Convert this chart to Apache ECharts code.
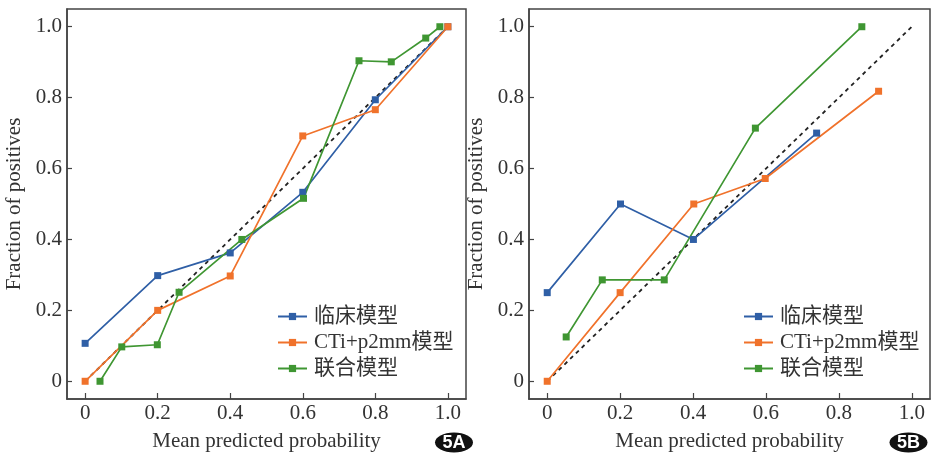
<!DOCTYPE html>
<html>
<head>
<meta charset="utf-8">
<script src="https://cdn.jsdelivr.net/npm/echarts@6/dist/echarts.min.js"></script>
<style>html,body{margin:0;padding:0;background:#fff}#c{width:936px;height:457px}</style>
</head>
<body>
<div id="c"></div>
<script>
// ---- data ----
const seriesNames = ['临床模型', 'CTi+p2mm模型', '联合模型'];
const tickValues = [0, 0.2, 0.4, 0.6, 0.8, 1.0];
const diagonal = [[0, 0], [1, 1]];

// Panel 5A
const A_clinical = [[0, 0.107], [0.2, 0.298], [0.4, 0.362], [0.6, 0.533], [0.8, 0.794], [1.0, 1.0]];
const A_ctp2mm  = [[0, 0], [0.2, 0.2], [0.4, 0.297], [0.6, 0.692], [0.8, 0.766], [1.0, 1.0]];
const A_combined = [[0.041, 0], [0.101, 0.097], [0.199, 0.103], [0.259, 0.251], [0.432, 0.400], [0.602, 0.516], [0.755, 0.904], [0.844, 0.901], [0.939, 0.968], [0.978, 1.0]];

// Panel 5B
const B_clinical = [[0, 0.25], [0.201, 0.5], [0.401, 0.4], [0.739, 0.70]];
const B_ctp2mm  = [[0, 0], [0.2, 0.25], [0.402, 0.5], [0.598, 0.572], [0.909, 0.818]];
const B_combined = [[0.052, 0.125], [0.151, 0.286], [0.321, 0.286], [0.571, 0.714], [0.863, 1.0]];

const colors = ['#2f5fa6', '#f0722b', '#3f9632'];
const serif = '"Liberation Serif", "Times New Roman", "Noto Sans CJK SC", serif';

function fmt(v) { return v === 0 ? '0' : v.toFixed(1); }

function xAxis(gi) {
  return {
    type: 'value', gridIndex: gi, min: -0.05, max: 1.05,
    name: 'Mean predicted probability', nameLocation: 'middle', nameGap: 32,
    nameTextStyle: { fontFamily: serif, fontSize: 21, color: '#333' },
    axisLine: { show: true, onZero: false, lineStyle: { color: '#444', width: 1.5 } },
    axisTick: { show: true, inside: true, length: 6, customValues: tickValues, lineStyle: { color: '#444', width: 1.2 } },
    axisLabel: { customValues: tickValues, formatter: fmt, fontFamily: serif, fontSize: 21, color: '#333', margin: 4 },
    splitLine: { show: false }
  };
}
function yAxis(gi) {
  return {
    type: 'value', gridIndex: gi, min: -0.05, max: 1.05,
    name: 'Fraction of positives', nameLocation: 'middle', nameGap: 42,
    nameTextStyle: { fontFamily: serif, fontSize: 21, color: '#333' },
    axisLine: { show: true, onZero: false, lineStyle: { color: '#444', width: 1.5 } },
    axisTick: { show: true, inside: true, length: 5, customValues: tickValues, lineStyle: { color: '#444', width: 1.2 } },
    axisLabel: { customValues: tickValues, formatter: fmt, fontFamily: serif, fontSize: 21, color: '#333', margin: 5 },
    splitLine: { show: false }
  };
}
function lineSeries(name, data, ci, gi) {
  return {
    type: 'line', name: name, data: data, xAxisIndex: gi, yAxisIndex: gi,
    symbol: 'rect', symbolSize: 7, showSymbol: true,
    lineStyle: { color: colors[ci], width: 1.7 },
    itemStyle: { color: colors[ci] },
    z: 3, animation: false
  };
}
function diagSeries(gi) {
  return {
    type: 'line', data: diagonal, xAxisIndex: gi, yAxisIndex: gi, symbol: 'none',
    lineStyle: { color: '#222', width: 1.8, type: [4, 4] }, z: 2, animation: false, silent: true
  };
}
function legend(left) {
  return {
    show: true, orient: 'vertical', left: left, top: 301, itemWidth: 29, itemHeight: 9, itemGap: 5,
    data: seriesNames,
    textStyle: { fontFamily: serif, fontSize: 21, color: '#333', padding: [0, 0, 0, 2] }
  };
}

const chart = echarts.init(document.getElementById('c'), null, { renderer: 'canvas' });
const option = {
  animation: false,
  backgroundColor: '#fff',
  grid: [
    { left: 67, top: 9, width: 399, height: 391, show: true, borderColor: '#444', borderWidth: 1.5, backgroundColor: 'transparent' },
    { left: 529, top: 9, width: 401, height: 391, show: true, borderColor: '#444', borderWidth: 1.5, backgroundColor: 'transparent' }
  ],
  xAxis: [xAxis(0), xAxis(1)],
  yAxis: [yAxis(0), yAxis(1)],
  legend: [
    Object.assign(legend(272), { id: 'lA' }),
    Object.assign(legend(738), { id: 'lB' })
  ],
  series: [
    diagSeries(0),
    lineSeries(seriesNames[0], A_clinical, 0, 0),
    lineSeries(seriesNames[1], A_ctp2mm, 1, 0),
    lineSeries(seriesNames[2], A_combined, 2, 0),
    diagSeries(1),
    lineSeries(seriesNames[0], B_clinical, 0, 1),
    lineSeries(seriesNames[1], B_ctp2mm, 1, 1),
    lineSeries(seriesNames[2], B_combined, 2, 1)
  ],
  graphic: [
    { type: 'ellipse', shape: { cx: 454, cy: 442.5, rx: 19, ry: 10 }, style: { fill: '#111' } },
    { type: 'text', x: 454, y: 443, style: { text: '5A', fill: '#fff', font: 'bold 18px "Liberation Sans", Arial, sans-serif', textAlign: 'center', textVerticalAlign: 'middle' } },
    { type: 'ellipse', shape: { cx: 908.5, cy: 442.5, rx: 19, ry: 10 }, style: { fill: '#111' } },
    { type: 'text', x: 908.5, y: 443, style: { text: '5B', fill: '#fff', font: 'bold 18px "Liberation Sans", Arial, sans-serif', textAlign: 'center', textVerticalAlign: 'middle' } }
  ]
};
chart.setOption(option);
</script>
</body>
</html>
